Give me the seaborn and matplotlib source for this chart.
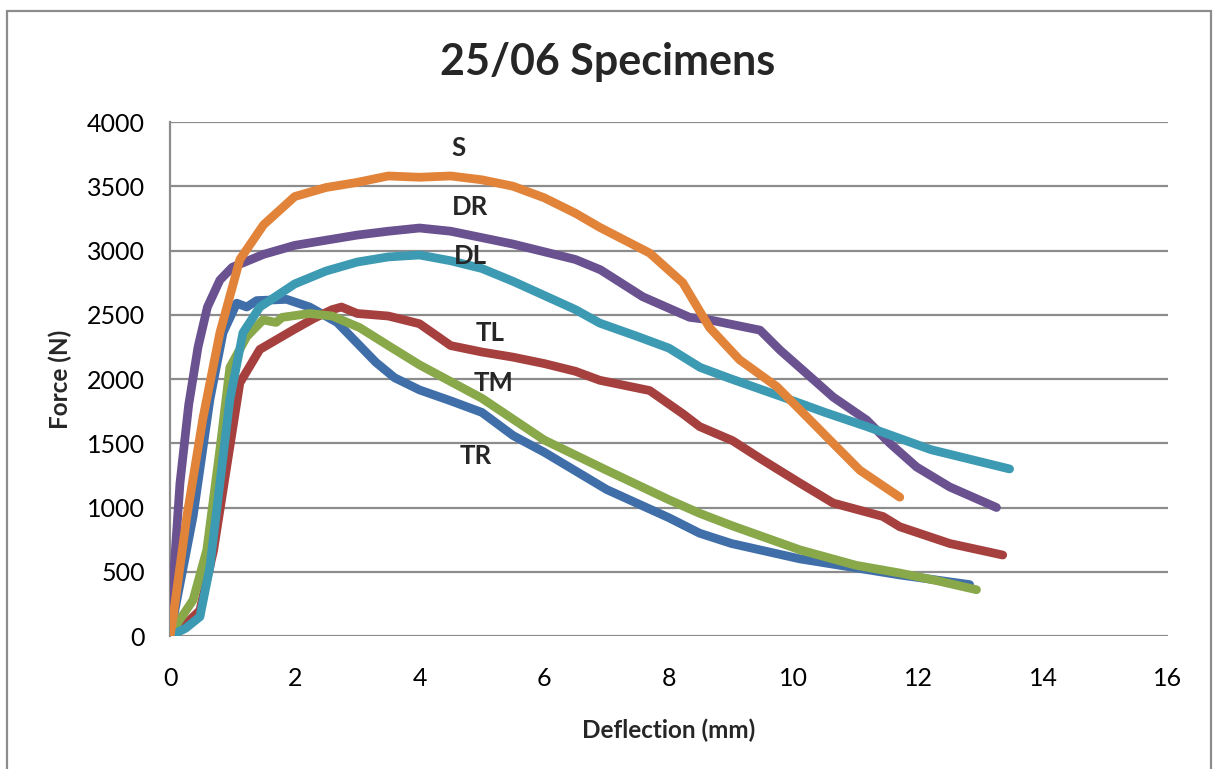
import matplotlib
matplotlib.use("Agg")
import matplotlib.pyplot as plt
import seaborn as sns
import pandas as pd
from matplotlib.patches import Rectangle

# ---- data ----
tr_x = [0, 0.11, 0.37, 0.64, 0.85, 1.07, 1.23, 1.39, 1.87, 2.24, 2.68, 3.0, 3.3, 3.6, 4.0, 4.5, 5.0, 5.5, 6.0, 7.0, 8.0, 8.49, 9.0, 10.1, 11.0, 11.7, 12.82]
tr_y = [0, 280, 930, 1840, 2360, 2590, 2560, 2610, 2620, 2560, 2440, 2280, 2130, 2010, 1915, 1830, 1740, 1560, 1430, 1140, 920, 800, 720, 600, 530, 475, 400]

tl_x = [0, 0.16, 0.48, 0.7, 0.91, 1.12, 1.44, 1.97, 2.3, 2.6, 2.75, 3.0, 3.5, 4.0, 4.5, 5.0, 5.5, 6.0, 6.5, 6.89, 7.69, 8.22, 8.49, 9.02, 9.5, 10.1, 10.63, 11.43, 11.7, 12.5, 13.35]
tl_y = [0, 50, 200, 670, 1320, 1970, 2230, 2380, 2470, 2540, 2560, 2510, 2490, 2430, 2260, 2210, 2170, 2120, 2060, 1990, 1910, 1730, 1630, 1520, 1370, 1190, 1035, 930, 850, 720, 630]

tm_x = [0, 0.05, 0.37, 0.59, 0.8, 0.96, 1.23, 1.49, 1.7, 1.8, 2.24, 2.6, 3.04, 3.5, 4.0, 5.0, 6.0, 7.0, 8.0, 8.49, 9.0, 10.1, 11.0, 11.7, 12.3, 12.93]
tm_y = [0, 50, 280, 670, 1450, 2090, 2330, 2460, 2440, 2480, 2510, 2490, 2400, 2260, 2110, 1850, 1525, 1290, 1060, 955, 860, 670, 550, 490, 430, 360]

dr_x = [0, 0.05, 0.16, 0.3, 0.45, 0.6, 0.8, 1.0, 1.5, 2.0, 2.5, 3.0, 3.5, 4.0, 4.5, 5.0, 5.5, 6.0, 6.5, 6.9, 7.58, 8.33, 8.65, 9.46, 9.78, 10.2, 10.63, 11.17, 11.54, 11.97, 12.5, 13.25]
dr_y = [0, 410, 1190, 1800, 2250, 2560, 2770, 2870, 2970, 3040, 3080, 3120, 3150, 3175, 3150, 3100, 3050, 2990, 2930, 2850, 2640, 2480, 2460, 2380, 2225, 2045, 1860, 1680, 1500, 1315, 1160, 1000]

dl_x = [0, 0.25, 0.48, 0.64, 0.8, 0.96, 1.17, 1.44, 2.0, 2.5, 3.0, 3.5, 4.0, 4.5, 5.0, 5.5, 6.0, 6.5, 6.89, 7.5, 8.0, 8.5, 9.0, 9.82, 10.5, 11.17, 12.2, 13.46]
dl_y = [0, 60, 150, 540, 1190, 1840, 2360, 2560, 2740, 2840, 2910, 2950, 2965, 2920, 2860, 2760, 2650, 2540, 2435, 2330, 2240, 2090, 2000, 1860, 1740, 1630, 1450, 1300]

s_x = [0, 0.05, 0.27, 0.53, 0.8, 1.12, 1.5, 2.0, 2.5, 3.0, 3.5, 4.0, 4.5, 5.0, 5.5, 6.0, 6.5, 6.89, 7.69, 8.22, 8.65, 9.13, 9.73, 10.1, 10.63, 11.06, 11.7]
s_y = [0, 150, 930, 1700, 2360, 2930, 3200, 3420, 3490, 3530, 3580, 3570, 3580, 3550, 3500, 3410, 3290, 3180, 2980, 2750, 2400, 2150, 1940, 1760, 1500, 1290, 1080]

series_names = ["TR", "TL", "TM", "DR", "DL", "S"]
label_x = [4.9, 5.13, 5.19, 4.81, 4.81, 4.62]
label_y = [1400, 2360, 1970, 3340, 2960, 3800]

# ---- build long-form table ----
rows = []
for name, xs, ys in zip(series_names,
                        [tr_x, tl_x, tm_x, dr_x, dl_x, s_x],
                        [tr_y, tl_y, tm_y, dr_y, dl_y, s_y]):
    for i, (a, b) in enumerate(zip(xs, ys)):
        rows.append({"series": name, "order": i, "Deflection": a, "Force": b})
df = pd.DataFrame(rows)

palette = {"TR": "#3F6EA9", "TL": "#A6403E", "TM": "#88A84A",
           "DR": "#6A5190", "DL": "#3C9AB2", "S": "#E2833A"}

sns.set_theme(style="white")
plt.rcParams["font.family"] = ["Lato", "DejaVu Sans"]

fig = plt.figure(figsize=(12.16, 7.69), dpi=100)
ax = fig.add_axes([170/1216, 1-636/769, (1168-170)/1216, (636-122)/769])

sns.lineplot(data=df, x="Deflection", y="Force", hue="series", palette=palette,
             sort=False, estimator=None, linewidth=6.3, legend=False, ax=ax,
             solid_capstyle="round", solid_joinstyle="round", zorder=3)

ax.set_xlim(0, 16)
ax.set_ylim(0, 4000)
ax.set_xticks(range(0, 17, 2))
ax.set_yticks(range(0, 4001, 500))
ax.grid(axis="y", color="#8c8c8c", linewidth=1.6)
ax.grid(axis="x", visible=False)
ax.set_axisbelow(True)
for side in ["top", "right", "bottom"]:
    ax.spines[side].set_visible(False)
ax.spines["left"].set_color("#8c8c8c")
ax.spines["left"].set_linewidth(1.6)
ax.tick_params(axis="both", length=0, labelsize=18, colors="black")
ax.tick_params(axis="x", pad=22)
ax.tick_params(axis="y", pad=18)

ax.set_xlabel("Deflection (mm)", fontsize=17.5, fontweight="bold")
ax.set_ylabel("Force (N)", fontsize=17.5, fontweight="bold")
ax.xaxis.set_label_coords(0.5, -(730 - 636) / 514)
ax.xaxis.label.set_va("center")
ax.yaxis.set_label_coords(-(170 - 60) / 998, 0.5)
ax.yaxis.label.set_va("center")

for name, lx, ly in zip(series_names, label_x, label_y):
    ax.text(lx, ly, name, fontsize=18.5, fontweight="bold", ha="center", va="center", zorder=4)

fig.text(608/1216, 1-62/769, "25/06 Specimens", fontsize=31, fontweight="bold",
         ha="center", va="center")

fig.patches.append(Rectangle((7/1216, -0.1), (1211-7)/1216, (769-11)/769 + 0.1,
                             transform=fig.transFigure, fill=False,
                             edgecolor="#8c8c8c", linewidth=1.6))

fig.savefig("out.png", dpi=100)
